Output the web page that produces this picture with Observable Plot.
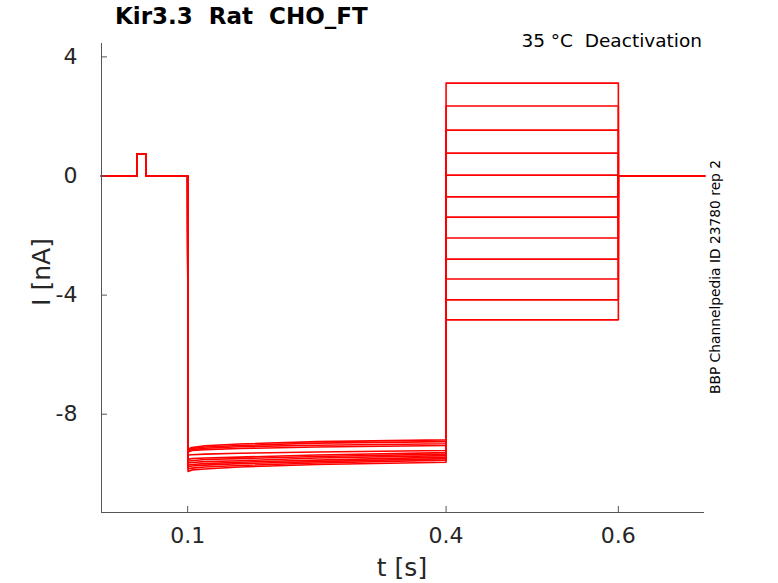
<!DOCTYPE html>
<html>
<head>
<meta charset="utf-8">
<script src="https://cdn.jsdelivr.net/npm/d3@7"></script>
<script src="https://cdn.jsdelivr.net/npm/@observablehq/plot@0.6"></script>
<style>
  html, body { margin: 0; padding: 0; background: #fff; }
  svg text { font-family: "DejaVu Sans", sans-serif; }
</style>
</head>
<body>
<div id="chart"></div>
<script>
// ---- data ----
const title = "Kir3.3  Rat  CHO_FT";
const subtitle = "35 °C  Deactivation";
const sideNote = "BBP Channelpedia ID 23780 rep 2";
const xLabel = "t [s]";
const yLabel = "I [nA]";

const xDomain = [0, 0.7];
const yDomain = [-11.3, 4.45];
const xTicks = [0.1, 0.4, 0.6];
const yTicks = [4, 0, -4, -8];

// protocol epochs (s)
const tStart = 0;
const pulseOn = 0.041;
const pulseOff = 0.0516;
const pulseAmp = 0.73;          // nA, test pulse
const hyperOn = 0.1;
const deactOn = 0.4;
const deactOff = 0.6;
const tEnd = 0.7;

// sample times during the hyperpolarising step
const hyperT = [0.1005, 0.105, 0.12, 0.16, 0.25, 0.4];
// current (nA) of each sweep at hyperT
const hyperI = [
  [-9.17, -9.12, -9.06, -9.00, -8.92, -8.86],
  [-9.20, -9.15, -9.10, -9.05, -8.97, -8.92],
  [-9.24, -9.19, -9.14, -9.09, -9.04, -8.99],
  [-9.27, -9.22, -9.19, -9.15, -9.10, -9.05],
  [-9.37, -9.36, -9.34, -9.31, -9.27, -9.22],
  [-9.51, -9.49, -9.47, -9.44, -9.37, -9.29],
  [-9.57, -9.56, -9.52, -9.49, -9.42, -9.34],
  [-9.64, -9.62, -9.59, -9.56, -9.47, -9.39],
  [-9.71, -9.69, -9.66, -9.61, -9.54, -9.44],
  [-9.77, -9.74, -9.71, -9.66, -9.59, -9.49],
  [-9.84, -9.81, -9.77, -9.72, -9.64, -9.54],
  [-9.92, -9.87, -9.84, -9.77, -9.69, -9.61]
];
// current (nA) of each sweep during the deactivation step
const deactI = [3.12, 2.35, 1.54, 0.77, 0.03, -0.70, -1.38, -2.08, -2.79, -3.46, -4.16, -4.83];

// ---- build table ----
const rows = [];
deactI.forEach((d, s) => {
  const pts = [
    [tStart, 0], [pulseOn, 0], [pulseOn, pulseAmp], [pulseOff, pulseAmp], [pulseOff, 0],
    [hyperOn, 0]
  ];
  hyperT.forEach((t, k) => pts.push([t, hyperI[s][k]]));
  pts.push([deactOn, d], [deactOff, d], [deactOff, 0], [tEnd, 0]);
  pts.forEach(([t, I]) => rows.push({sweep: s, t, I}));
});

const W = 778, H = 583;
const mL = 101, mR = 74, mT = 43, mB = 71;
const axisColor = "#555";
const textColor = "#262626";

const chart = Plot.plot({
  width: W,
  height: H,
  marginLeft: mL,
  marginRight: mR,
  marginTop: mT,
  marginBottom: mB,
  style: {background: "#fff", fontFamily: "DejaVu Sans, sans-serif"},
  x: {domain: xDomain},
  y: {domain: yDomain},
  marks: [
    Plot.line(rows, {x: "t", y: "I", z: "sweep", stroke: "#ff0000", strokeWidth: 1.6, curve: "linear"}),
    Plot.ruleX([xDomain[0]], {stroke: axisColor, strokeWidth: 1}),
    Plot.ruleY([yDomain[0]], {stroke: axisColor, strokeWidth: 1}),
    Plot.axisX({ticks: xTicks, tickFormat: d => d.toFixed(1), tickSize: -6, tickPadding: 21,
      stroke: axisColor, fill: textColor, fontSize: 22, label: null}),
    Plot.axisY({ticks: yTicks, tickFormat: d => String(d), tickSize: -6, tickPadding: 30,
      stroke: axisColor, fill: textColor, fontSize: 22, label: null})
  ]
});

const svg = d3.select(chart.tagName.toLowerCase() === "svg" ? chart : chart.querySelector("svg"));

svg.append("text")
  .attr("x", 115).attr("y", 24)
  .attr("text-anchor", "start")
  .attr("font-size", 23).attr("font-weight", "bold")
  .attr("fill", "#000").style("white-space", "pre")
  .text(title);

svg.append("text")
  .attr("x", 702).attr("y", 47)
  .attr("text-anchor", "end")
  .attr("font-size", 18.5)
  .attr("fill", "#000").style("white-space", "pre")
  .text(subtitle);

svg.append("text")
  .attr("transform", "translate(720,277) rotate(-90)")
  .attr("text-anchor", "middle")
  .attr("font-size", 13.8)
  .attr("fill", "#000")
  .text(sideNote);

svg.append("text")
  .attr("x", 402).attr("y", 576)
  .attr("text-anchor", "middle")
  .attr("font-size", 25)
  .attr("fill", textColor)
  .text(xLabel);

svg.append("text")
  .attr("transform", "translate(50,272) rotate(-90)")
  .attr("text-anchor", "middle")
  .attr("font-size", 25)
  .attr("fill", textColor)
  .text(yLabel);

document.getElementById("chart").appendChild(chart);
</script>
</body>
</html>
